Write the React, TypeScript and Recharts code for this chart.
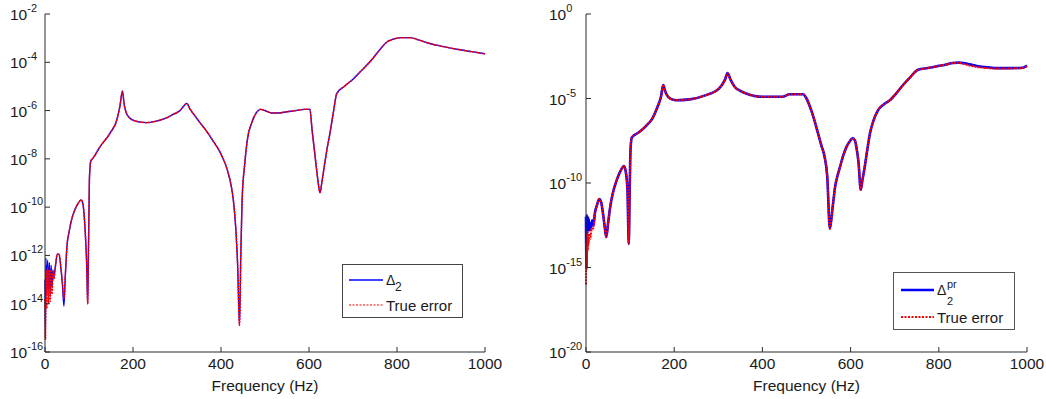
import { LineChart, Line, XAxis, YAxis } from "recharts";

// values are log10 of the error
const leftFreq = [
  0, 1, 2, 4, 6, 8, 10, 12, 14, 16, 18, 20, 24, 28, 32, 36, 40, 43, 46, 50,
  55, 60, 67, 75, 82, 86, 90, 93, 95, 97,
  99, 101, 104, 110, 125, 148, 163, 170, 176, 180,
  185, 192, 200, 215, 231, 250, 276, 292, 307, 316,
  322, 330, 340, 350, 365, 380, 400, 415, 423, 428,
  434, 438, 442, 445, 448, 454, 460, 470, 480, 490,
  500, 515, 530, 550, 570, 590, 602, 607, 612, 617,
  621, 625, 629, 634, 640, 648, 656, 663, 680, 700,
  716, 740, 760, 777, 790, 810, 830, 850, 870, 900,
  943, 970, 1000,
];
const leftDelta = [
  -13.0, -15.4, -12.1, -13.6, -12.2, -13.4, -12.3, -13.7, -12.4, -13.3, -12.6, -12.9, -12.4, -11.95, -11.95, -12.5, -13.3, -14.1, -12.9, -11.6,
  -11.0, -10.55, -10.15, -9.85, -9.7, -9.85, -10.6, -11.6, -12.5, -14.0,
  -11.5, -8.8, -8.1, -7.95, -7.5, -6.93, -6.4, -5.85, -5.2, -5.75,
  -6.1, -6.3, -6.4, -6.47, -6.5, -6.45, -6.3, -6.15, -6.0, -5.8,
  -5.7, -5.95, -6.2, -6.45, -6.8, -7.2, -7.8, -8.5, -9.1, -9.7,
  -11.0, -12.5, -14.9, -12.0, -9.7, -8.2, -7.2, -6.5, -6.1, -5.95,
  -6.0, -6.1, -6.1, -6.05, -6.0, -5.95, -5.95, -6.8, -7.6, -8.4,
  -9.0, -9.4, -9.0, -8.4, -7.7, -6.9, -6.0, -5.3, -5.0, -4.7,
  -4.4, -3.95, -3.5, -3.16, -3.05, -2.98, -2.98, -3.08, -3.2, -3.33,
  -3.48, -3.56, -3.65,
];
// true error only differs below ~50 Hz
const leftTrueLow = [
  -13.8, -15.5, -12.6, -14.2, -12.5, -14.0, -12.6, -13.9, -12.6, -13.6, -12.7, -13.0, -12.4, -11.95, -11.95, -12.5, -13.2, -13.8, -12.9, -11.6,
];
const leftTrue = [...leftTrueLow, ...leftDelta.slice(20)];

const rightFreq = [
  0, 1, 2, 3, 4, 5, 6, 8, 10, 12, 14, 17, 20,
  25, 30, 34, 38, 42, 46, 50, 55, 60, 70,
  80, 86, 90, 94, 97, 99, 101, 104, 120, 137,
  150, 162, 170, 175, 180, 186, 195, 205, 235, 272,
  302, 315, 321, 328, 337, 350, 363, 400, 445, 462,
  492, 500, 508, 517, 526, 534, 541, 547, 553, 559,
  565, 570, 576, 583, 591, 599, 605, 610, 613, 618,
  623, 627, 632, 638, 644, 652, 662, 675, 689, 705,
  719, 735, 753, 775, 795, 815, 832, 845, 855, 870,
  886, 910, 931, 960, 990, 1000,
];
const rightDelta = [
  -12.0, -15.0, -11.9, -13.0, -12.0, -12.7, -12.1, -12.8, -12.4, -12.6, -12.2, -12.5, -11.8,
  -11.3, -10.95, -11.1, -11.7, -12.5, -13.2, -12.4, -11.4, -10.7, -9.8,
  -9.2, -9.0, -9.3, -10.4, -13.6, -10.5, -8.0, -7.3, -7.0, -6.6,
  -6.2, -5.5, -4.9, -4.2, -4.6, -4.9, -5.05, -5.1, -5.05, -4.8,
  -4.4, -3.9, -3.5, -3.9, -4.3, -4.55, -4.7, -4.9, -4.9, -4.75,
  -4.75, -5.0, -5.5, -6.2, -7.05, -7.8, -8.45, -9.6, -12.7, -11.5,
  -10.2, -9.6, -9.05, -8.4, -7.85, -7.5, -7.35, -7.5, -7.85, -8.8,
  -10.4, -9.8, -9.05, -8.0, -7.05, -6.3, -5.7, -5.35, -5.1, -4.65,
  -4.2, -3.75, -3.3, -3.2, -3.1, -3.0, -2.9, -2.88, -2.9, -2.98,
  -3.08, -3.15, -3.2, -3.2, -3.18, -3.05,
];
const rightTrueLow = [-16.0, -13.5, -15.1, -12.9, -14.0, -13.2, -13.6, -13.0, -13.3, -12.7, -12.8, -12.6, -11.9];
const rightTrueTail = [-2.95, -3.05, -3.13, -3.2, -3.23, -3.22, -3.2, -3.1];
const rightTrue = [...rightTrueLow, ...rightDelta.slice(13, 91), ...rightTrueTail];

const freqTicks = [0, 200, 400, 600, 800, 1000];
const leftExpTicks = [-16, -14, -12, -10, -8, -6, -4, -2];
const rightExpTicks = [-20, -15, -10, -5, 0];

const FONT = "'Liberation Sans', Arial, Helvetica, sans-serif";
const AXIS = "#2b2b2b";
const TEXT = "#1a1a1a";

function toRows(freq: number[], a: number[], b: number[]) {
  return freq.map((f, i) => ({ f, d: Math.pow(10, a[i]), t: Math.pow(10, b[i]) }));
}

function BottomTick({ x, y, payload }: any) {
  return (
    <g>
      <line x1={x} y1={y} x2={x} y2={y - 5} stroke={AXIS} />
      <text x={x} y={y + 17} textAnchor="middle" fontSize={15.5} fill={TEXT} fontFamily={FONT}>
        {payload.value}
      </text>
    </g>
  );
}

function TopTick({ x, y }: any) {
  return <line x1={x} y1={y} x2={x} y2={y + 5} stroke={AXIS} />;
}

function RightTick({ x, y }: any) {
  return <line x1={x} y1={y} x2={x - 5} y2={y} stroke={AXIS} />;
}

function logTick(shift: number) {
  return ({ x, y, payload }: any) => {
    const e = Math.round(Math.log10(payload.value));
    return (
      <g>
        <line x1={x} y1={y} x2={x + 5} y2={y} stroke={AXIS} />
        <text x={x - shift} y={y + 6} fontSize={15.5} fill={TEXT} fontFamily={FONT}>
          10
          <tspan dy={-8} fontSize={11}>
            {e}
          </tspan>
        </text>
      </g>
    );
  };
}

type PanelProps = {
  rows: { f: number; d: number; t: number }[];
  exps: number[];
  width: number;
  margin: { top: number; right: number; bottom: number; left: number };
  shift: number;
  blueWidth: number;
  redWidth: number;
  rightLine: string;
};

function Panel({ rows, exps, width, margin, shift, blueWidth, redWidth, rightLine }: PanelProps) {
  const yTicks = exps.map((e) => Math.pow(10, e));
  const domain = [yTicks[0], yTicks[yTicks.length - 1]];
  return (
    <LineChart width={width} height={399} data={rows} margin={margin}>
      <XAxis
        xAxisId="b"
        dataKey="f"
        type="number"
        domain={[0, 1000]}
        ticks={freqTicks}
        interval={0}
        height={40}
        tickSize={0}
        tickMargin={0}
        stroke={AXIS}
        tick={BottomTick}
        label={{ value: "Frequency (Hz)", position: "insideBottom", offset: 1, fontSize: 15.5, fill: TEXT, fontFamily: FONT }}
      />
      <XAxis
        xAxisId="t"
        orientation="top"
        dataKey="f"
        type="number"
        domain={[0, 1000]}
        ticks={freqTicks}
        interval={0}
        height={0}
        tickSize={0}
        tickMargin={0}
        stroke={AXIS}
        tick={TopTick}
      />
      <YAxis
        yAxisId="l"
        type="number"
        scale="log"
        domain={domain}
        allowDataOverflow
        ticks={yTicks}
        interval={0}
        width={40}
        tickSize={0}
        tickMargin={0}
        stroke={AXIS}
        tick={logTick(shift)}
      />
      <YAxis
        yAxisId="r"
        orientation="right"
        type="number"
        scale="log"
        domain={domain}
        allowDataOverflow
        ticks={yTicks}
        interval={0}
        width={0}
        tickSize={0}
        tickMargin={0}
        axisLine={{ stroke: rightLine }}
        tick={RightTick}
      />
      <Line
        xAxisId="b"
        yAxisId="l"
        dataKey="d"
        type="monotone"
        stroke="#0000ff"
        strokeWidth={blueWidth}
        dot={false}
        isAnimationActive={false}
      />
      <Line
        xAxisId="b"
        yAxisId="l"
        dataKey="t"
        type="monotone"
        stroke="#ff0000"
        strokeWidth={redWidth}
        strokeDasharray="2 1"
        dot={false}
        isAnimationActive={false}
      />
    </LineChart>
  );
}

export default function App() {
  const leftRows = toRows(leftFreq, leftDelta, leftTrue);
  const rightRows = toRows(rightFreq, rightDelta, rightTrue);

  return (
    <div style={{ position: "absolute", left: 0, top: 0, width: 1046, height: 399, background: "#fff", fontFamily: FONT }}>
      <div style={{ position: "absolute", left: 0, top: 0 }}>
        <Panel
          rows={leftRows}
          exps={leftExpTicks}
          width={530}
          margin={{ top: 14, right: 45, bottom: 7, left: 5 }}
          shift={35}
          blueWidth={1.4}
          redWidth={1.5}
          rightLine="#f2f2f2"
        />
      </div>
      <div style={{ position: "absolute", left: 530, top: 0 }}>
        <Panel
          rows={rightRows}
          exps={rightExpTicks}
          width={516}
          margin={{ top: 14, right: 19, bottom: 7, left: 16 }}
          shift={37}
          blueWidth={2.6}
          redWidth={2}
          rightLine="#b5b5b5"
        />
      </div>

      <svg style={{ position: "absolute", left: 342, top: 264 }} width={122} height={55}>
        <rect x={0.5} y={0.5} width={120} height={53} fill="#fff" stroke="#444" />
        <line x1={7} y1={16} x2={41} y2={16} stroke="#0000ff" strokeWidth={1.4} />
        <text x={44} y={21} fontSize={14} fill={TEXT} fontFamily={FONT}>Δ</text>
        <text x={53} y={27} fontSize={12} fill={TEXT} fontFamily={FONT}>2</text>
        <line x1={7} y1={41} x2={41} y2={41} stroke="#ff0000" strokeWidth={1.2} strokeDasharray="2 1.5" />
        <text x={44} y={47} fontSize={15} fill={TEXT} fontFamily={FONT}>True error</text>
      </svg>

      <svg style={{ position: "absolute", left: 893, top: 272 }} width={123} height={59}>
        <rect x={0.5} y={0.5} width={121} height={57} fill="#fff" stroke="#555" />
        <line x1={8} y1={18} x2={41} y2={18} stroke="#0000ff" strokeWidth={2.6} />
        <text x={44} y={23} fontSize={14} fill={TEXT} fontFamily={FONT}>Δ</text>
        <text x={54} y={16} fontSize={11} fill={TEXT} fontFamily={FONT}>pr</text>
        <text x={54} y={33} fontSize={11} fill={TEXT} fontFamily={FONT}>2</text>
        <line x1={8} y1={45} x2={41} y2={45} stroke="#ff0000" strokeWidth={1.8} strokeDasharray="2 1.5" />
        <text x={44} y={51} fontSize={15} fill={TEXT} fontFamily={FONT}>True error</text>
      </svg>
    </div>
  );
}
